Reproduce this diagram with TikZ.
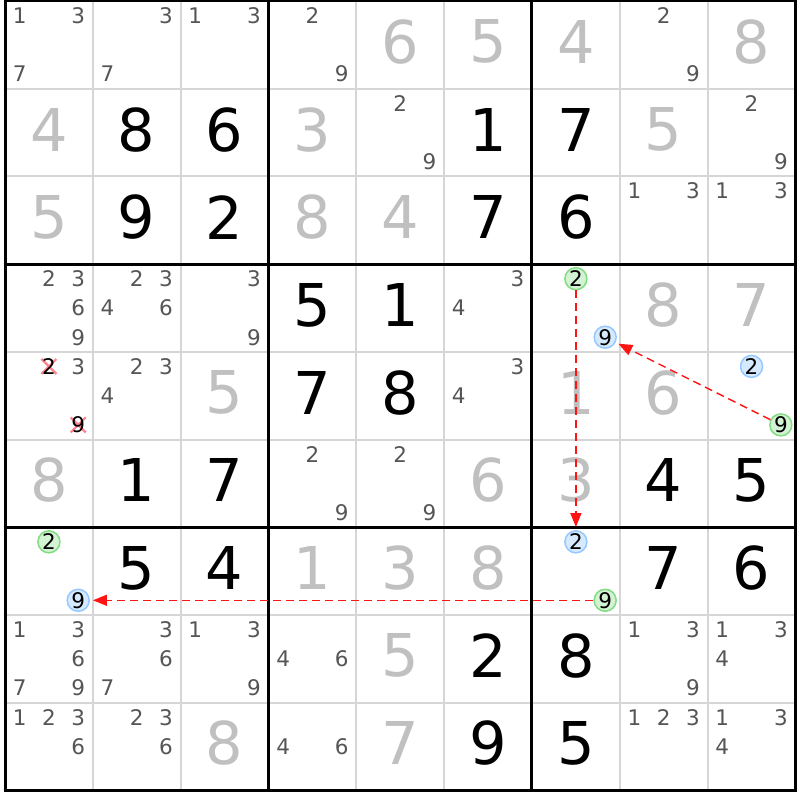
\documentclass[tikz,border=0pt]{standalone}
\usepackage{fontspec}
\setmainfont{DejaVu Sans}
\usetikzlibrary{arrows.meta}
\definecolor{givengray}{RGB}{192,192,192}
\definecolor{candgray}{RGB}{85,85,85}
\definecolor{thingray}{RGB}{214,214,214}
\definecolor{gfill}{RGB}{212,242,212}
\definecolor{gline}{RGB}{130,220,130}
\definecolor{bfill}{RGB}{214,234,255}
\definecolor{bline}{RGB}{150,200,255}
\definecolor{xred}{RGB}{255,130,140}
\definecolor{linkred}{RGB}{255,20,20}
\def\cw{87.83}
\def\ch{87.7}
\newcommand\candpos[3]{%
  \pgfmathsetmacro\px{5+#2*\cw+(mod(#3-1,3)+0.5)*\cw/3}%
  \pgfmathsetmacro\py{1+#1*\ch+(floor((#3-1)/3)+0.5)*\ch/3}}
\newcommand\cands[3]{%
  \foreach \d in {#3}{%
    \candpos{#1}{#2}{\d}%
    \node[cand] (k#1#2\d) at (\px,\py) {\d};}}
\newcommand\givenAt[3]{\node[given] (n#1#2) at ({5+(#2+0.5)*\cw},{1+(#1+0.5)*\ch-3}) {#3};}
\newcommand\solvedAt[3]{\node[solved] (n#1#2) at ({5+(#2+0.5)*\cw},{1+(#1+0.5)*\ch-3}) {#3};}
\newcommand\gcand[3]{\candpos{#1}{#2}{#3}\node[gcirc] (g#1#2#3) at (\px,\py) {#3};}
\newcommand\bcand[3]{\candpos{#1}{#2}{#3}\node[bcirc] (b#1#2#3) at (\px,\py) {#3};}
\newcommand\xcand[3]{\candpos{#1}{#2}{#3}%
  \draw[xmark] (\px-7.5,\py-7.5) -- (\px+7.5,\py+7.5) (\px-7.5,\py+7.5) -- (\px+7.5,\py-7.5);
  \node[elim] (e#1#2#3) at (\px,\py) {#3};}
\begin{document}
\begin{tikzpicture}[x=1pt,y=-1pt,
  given/.style={text=givengray,font=\fontsize{59}{59}\selectfont,inner sep=0pt},
  solved/.style={text=black,font=\fontsize{59}{59}\selectfont,inner sep=0pt},
  cand/.style={text=candgray,font=\fontsize{21.5}{21.5}\selectfont,inner sep=0pt},
  elim/.style={text=black,font=\fontsize{21.5}{21.5}\selectfont,inner sep=0pt},
  xmark/.style={draw=xred,line width=2.2pt},
  gcirc/.style={circle,draw=gline,fill=gfill,line width=1.5pt,minimum size=22pt,inner sep=0pt,text=black,font=\fontsize{21.5}{21.5}\selectfont},
  bcirc/.style={circle,draw=bline,fill=bfill,line width=1.5pt,minimum size=22pt,inner sep=0pt,text=black,font=\fontsize{21.5}{21.5}\selectfont},
  thinline/.style={draw=thingray,line width=2pt},
  thickline/.style={draw=black,line width=3pt},
  link/.style={draw=linkred,line width=1.4pt,dash pattern=on 8pt off 5pt,-{Triangle[length=14pt,width=11pt]},shorten >=3pt}]
\useasboundingbox (0,0) rectangle (800,800);
\fill[white] (0,0) rectangle (800,800);
% grid
\foreach \i in {1,2,4,5,7,8}{
  \draw[thinline] ({5+\i*\cw},1) -- ({5+\i*\cw},790.3);
  \draw[thinline] (5,{1+\i*\ch}) -- (795.5,{1+\i*\ch});}
\foreach \i in {0,3,6,9}{
  \draw[thickline] ({5+\i*\cw},-0.5) -- ({5+\i*\cw},791.8);
  \draw[thickline] (3.5,{1+\i*\ch}) -- (797,{1+\i*\ch});}
% row 0
\cands{0}{0}{1,3,7}\cands{0}{1}{3,7}\cands{0}{2}{1,3}\cands{0}{3}{2,9}
\givenAt{0}{4}{6}\givenAt{0}{5}{5}\givenAt{0}{6}{4}\cands{0}{7}{2,9}\givenAt{0}{8}{8}
% row 1
\givenAt{1}{0}{4}\solvedAt{1}{1}{8}\solvedAt{1}{2}{6}\givenAt{1}{3}{3}\cands{1}{4}{2,9}
\solvedAt{1}{5}{1}\solvedAt{1}{6}{7}\givenAt{1}{7}{5}\cands{1}{8}{2,9}
% row 2
\givenAt{2}{0}{5}\solvedAt{2}{1}{9}\solvedAt{2}{2}{2}\givenAt{2}{3}{8}\givenAt{2}{4}{4}
\solvedAt{2}{5}{7}\solvedAt{2}{6}{6}\cands{2}{7}{1,3}\cands{2}{8}{1,3}
% row 3
\cands{3}{0}{2,3,6,9}\cands{3}{1}{2,3,4,6}\cands{3}{2}{3,9}\solvedAt{3}{3}{5}\solvedAt{3}{4}{1}
\cands{3}{5}{3,4}\gcand{3}{6}{2}\bcand{3}{6}{9}\givenAt{3}{7}{8}\givenAt{3}{8}{7}
% row 4
\xcand{4}{0}{2}\cands{4}{0}{3}\xcand{4}{0}{9}\cands{4}{1}{2,3,4}\givenAt{4}{2}{5}
\solvedAt{4}{3}{7}\solvedAt{4}{4}{8}\cands{4}{5}{3,4}\givenAt{4}{6}{1}\givenAt{4}{7}{6}
\bcand{4}{8}{2}\gcand{4}{8}{9}
% row 5
\givenAt{5}{0}{8}\solvedAt{5}{1}{1}\solvedAt{5}{2}{7}\cands{5}{3}{2,9}\cands{5}{4}{2,9}
\givenAt{5}{5}{6}\givenAt{5}{6}{3}\solvedAt{5}{7}{4}\solvedAt{5}{8}{5}
% row 6
\gcand{6}{0}{2}\bcand{6}{0}{9}\solvedAt{6}{1}{5}\solvedAt{6}{2}{4}\givenAt{6}{3}{1}
\givenAt{6}{4}{3}\givenAt{6}{5}{8}\bcand{6}{6}{2}\gcand{6}{6}{9}\solvedAt{6}{7}{7}\solvedAt{6}{8}{6}
% row 7
\cands{7}{0}{1,3,6,7,9}\cands{7}{1}{3,6,7}\cands{7}{2}{1,3,9}\cands{7}{3}{4,6}\givenAt{7}{4}{5}
\solvedAt{7}{5}{2}\solvedAt{7}{6}{8}\cands{7}{7}{1,3,9}\cands{7}{8}{1,3,4}
% row 8
\cands{8}{0}{1,2,3,6}\cands{8}{1}{2,3,6}\givenAt{8}{2}{8}\cands{8}{3}{4,6}\givenAt{8}{4}{7}
\solvedAt{8}{5}{9}\solvedAt{8}{6}{5}\cands{8}{7}{1,2,3}\cands{8}{8}{1,3,4}
% links
\draw[link] (g362) -- (b662);
\draw[link] (g489) -- (b369);
\draw[link] (g669) -- (b609);
\end{tikzpicture}
\end{document}
